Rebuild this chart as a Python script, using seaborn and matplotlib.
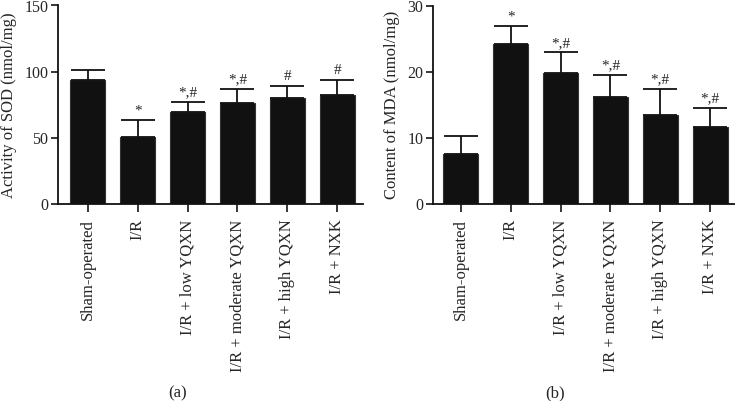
import numpy as np
import pandas as pd
import matplotlib
matplotlib.use("Agg")
import matplotlib.pyplot as plt
import seaborn as sns

# group names shared by both panels
groups = ["Sham-operated", "I/R", "I/R + low YQXN", "I/R + moderate YQXN",
          "I/R + high YQXN", "I/R + NXK"]

# panel (a): SOD activity, mean and upper SD
sod_mean = [93.4, 51.0, 69.2, 76.7, 79.8, 82.3]
sod_sd = [8.1, 12.6, 8.1, 10.2, 9.6, 11.4]
sod_marks = ["", "*", "*,#", "*,#", "#", "#"]

# panel (b): MDA content, mean and upper SD
mda_mean = [7.5, 24.2, 19.8, 16.2, 13.4, 11.7]
mda_sd = [2.8, 2.7, 3.1, 3.3, 4.0, 2.8]
mda_marks = ["", "*", "*,#", "*,#", "*,#", "*,#"]


def draw_panel(ax, means, sds, marks, ylabel, ylim, yticks, xlim):
	"""Draw one bar panel with upper-only error bars and significance marks."""
	df = pd.DataFrame({"group": groups, "value": means})
	sns.barplot(data=df, x="group", y="value", ax=ax, color="#111111",
				width=0.7, errorbar=None, saturation=1, edgecolor="#333333",
				linewidth=0.8)
	xs = np.arange(len(groups))
	ax.errorbar(xs, means, yerr=[np.zeros(len(sds)), sds], fmt="none",
				ecolor="#111111", elinewidth=1.3, capsize=12, capthick=1.3)
	for x, m, s, t in zip(xs, means, sds, marks):
		if t:
			ax.annotate(t, (x, m + s), xytext=(0, 2), textcoords="offset points",
						ha="center", va="bottom", fontsize=11)
	ax.set_ylim(*ylim)
	ax.set_yticks(yticks)
	ax.set_xlim(*xlim)
	ax.set_xlabel("")
	ax.set_ylabel(ylabel, fontsize=12, labelpad=5)
	ax.set_xticks(xs)
	ax.set_xticklabels(groups, rotation=90, fontsize=12)
	ax.tick_params(axis="y", labelsize=11.5, length=5, width=1.3, pad=2)
	ax.tick_params(axis="x", length=6, width=1.3, pad=5)
	sns.despine(ax=ax)
	for sp in ["left", "bottom"]:
		ax.spines[sp].set_linewidth(1.3)
		ax.spines[sp].set_color("#111111")


sns.set_theme(style="ticks")
plt.rcParams["font.family"] = ["Liberation Serif", "DejaVu Serif"]

fig = plt.figure(figsize=(7.35, 4.01), dpi=100)
ax_a = fig.add_axes([58 / 735, 197 / 401, 305 / 735, 198.5 / 401])
ax_b = fig.add_axes([433 / 735, 197 / 401, 302 / 735, 198.5 / 401])

draw_panel(ax_a, sod_mean, sod_sd, sod_marks, "Activity of SOD (nmol/mg)",
		   (0, 150), [0, 50, 100, 150], (-0.6, 5.52))
draw_panel(ax_b, mda_mean, mda_sd, mda_marks, "Content of MDA (nmol/mg)",
		   (0, 30), [0, 10, 20, 30], (-0.56, 5.5))

fig.text(178 / 735, 1 - 393 / 401, "(a)", ha="center", va="center", fontsize=12)
fig.text(555 / 735, 1 - 393 / 401, "(b)", ha="center", va="center", fontsize=12)

fig.savefig("out.png", dpi=100)
